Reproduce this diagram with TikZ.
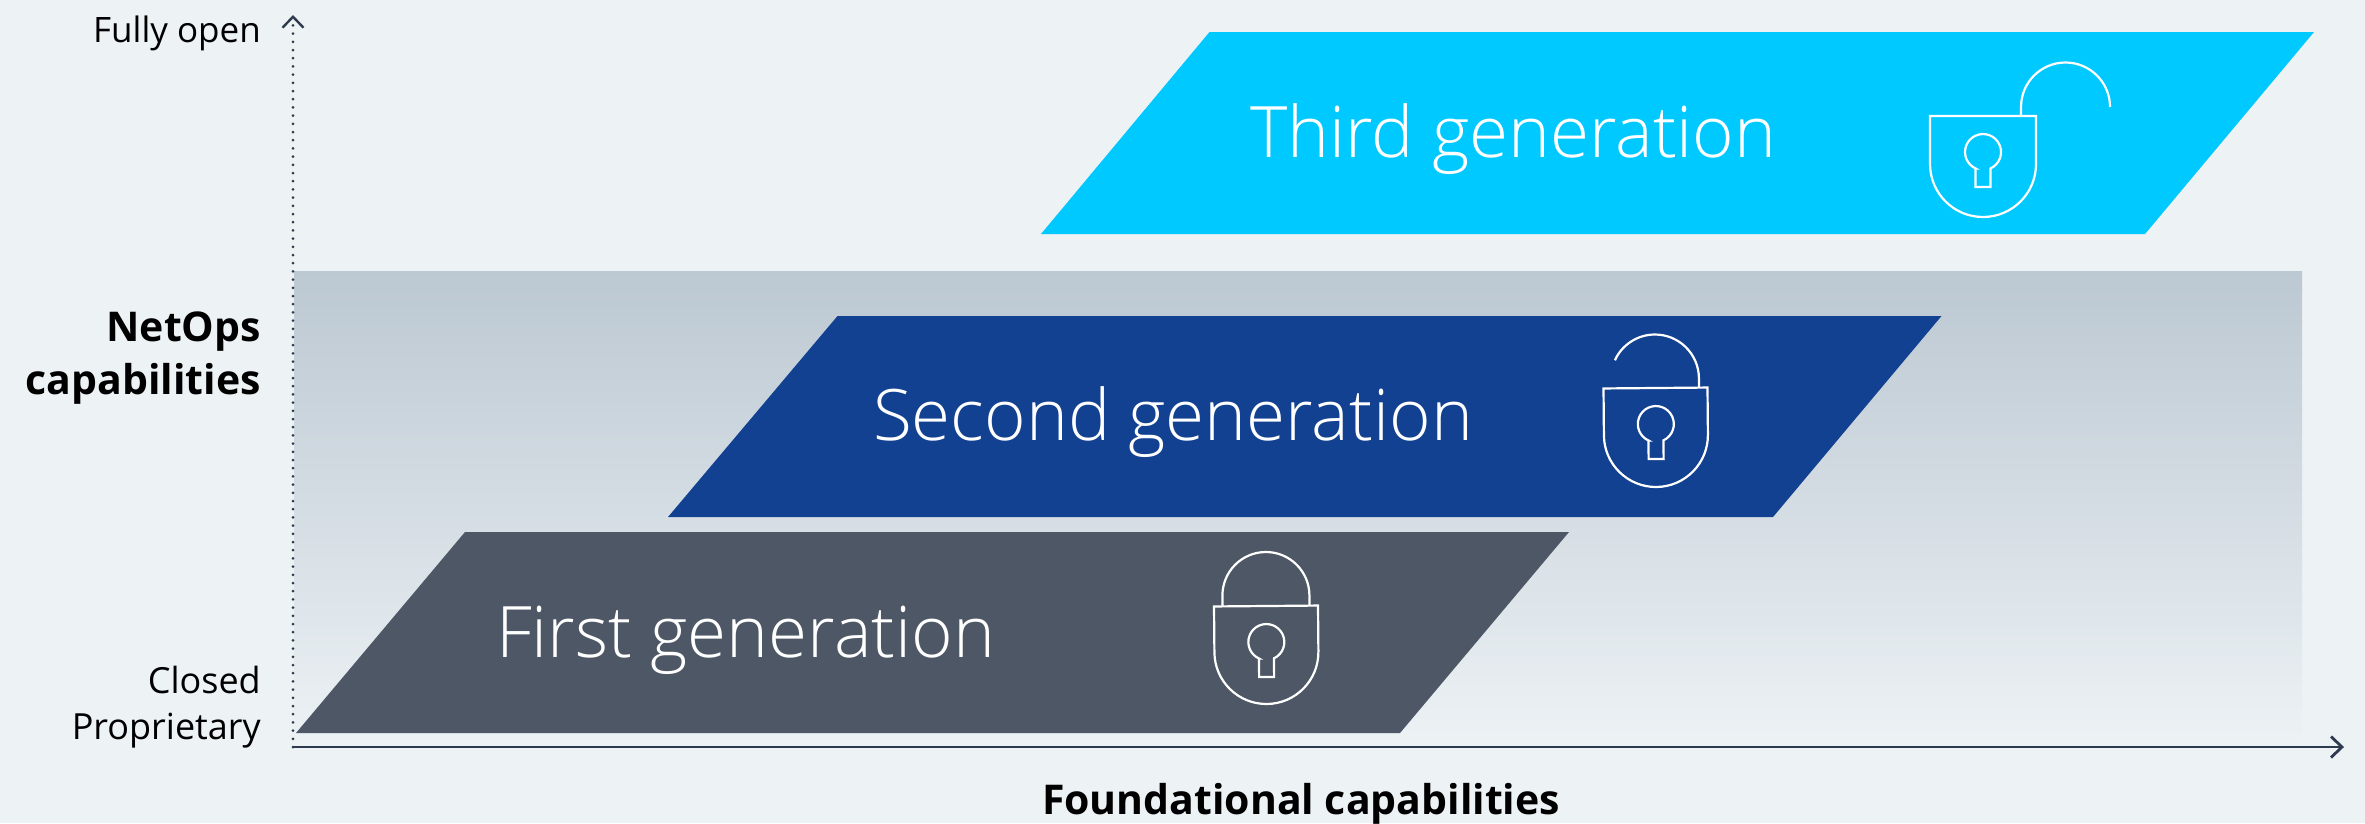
\documentclass[tikz,border=0pt]{standalone}
\usepackage{fontspec}
\setmainfont{Open Sans}
\newfontfamily\lightfont{Open Sans Light}
\usetikzlibrary{arrows.meta}
\definecolor{bgc}{HTML}{EDF2F5}
\definecolor{bandtop}{HTML}{BCC8D2}
\definecolor{axisc}{HTML}{2E3A4E}
\definecolor{thirdc}{HTML}{00C9FF}
\definecolor{secondc}{HTML}{124191}
\definecolor{firstc}{HTML}{4E5766}
\tikzset{
  x=1pt,y=-1pt,
  gentext/.style={text=white,anchor=base west,inner sep=0pt,font=\lightfont\fontsize{71}{78}\selectfont},
  axlabel/.style={text=black,inner sep=0pt,font=\fontsize{36}{46}\selectfont},
  boldlabel/.style={text=black,inner sep=0pt,font=\bfseries\fontsize{41}{53}\selectfont},
  lockline/.style={draw=white,line width=2.2pt,line join=miter},
  axisline/.style={draw=axisc,line width=2.6pt,-{Straight Barb[length=11pt,width=21pt,line width=2.8pt]}},
  axisdot/.style={draw=axisc,line width=3pt,line cap=round,dash pattern=on 0pt off 8.2pt,-{Straight Barb[length=11pt,width=21pt,line width=2.4pt]}},
}
% body and keyhole of a lock, origin at the middle of the top edge; #1 half width, #2 height
\newcommand{\lockshape}[2]{%
  \draw[lockline] (-#1,0) -- (#1,0) -- ({#1},{#2-#1}) arc[start angle=0,delta angle=180,radius=#1] -- cycle;
  \draw[lockline] (-7.5,52.4) -- (-7.5,71) -- (7.5,71) -- (7.5,52.4) arc[start angle=65.4,delta angle=-310.8,radius=18] -- cycle;
}
\begin{document}
\begin{tikzpicture}
\useasboundingbox (0,0) rectangle (2365,823);
\fill[bgc] (0,0) rectangle (2365,823);
\shade[top color=bandtop,bottom color=bgc,draw=none] (294,271) rectangle (2302,747);
% parallelograms
\fill[thirdc]  (1209.5,32) -- (2314,32) -- (2145,234) -- (1041,234) -- cycle;
\fill[secondc] (837.5,316) -- (1941.5,316) -- (1773,517) -- (668,517) -- cycle;
\fill[firstc]  (465,532) -- (1569,532) -- (1400,733) -- (296,733) -- cycle;
% texts
\node[gentext] (third)  at (1250,157) {Third generation};
\node[gentext] (second) at (873,440) {Second generation};
\node[gentext] (first)  at (496,657) {First generation};
% axes
\coordinate (origin) at (293,747);
\coordinate (ytip) at (293,15);
\coordinate (xtip) at (2344,747);
\draw[axisdot] (origin) -- (ytip);
\draw[axisline] (origin) -- (xtip);
% labels
\node[axlabel,anchor=base east,font=\fontsize{35}{44}\selectfont] (fullyopen) at (261,42) {Fully open};
\node[axlabel,anchor=base east,align=right] (closed) at (261,739) {Closed\\Proprietary};
\node[boldlabel,anchor=base east,align=right] (netops) at (261,394) {NetOps\\capabilities};
\node[boldlabel,anchor=base] (found) at (1301,814) {Foundational capabilities};
% first lock, closed
\begin{scope}[shift={(1266,606)},rotate=0.5]
  \lockshape{52}{98}
  \draw[lockline] (-43.5,0) -- (-43.5,-10.5) arc[start angle=180,delta angle=180,radius=43.5] -- (43.5,0);
\end{scope}
% second lock, half open
\begin{scope}[shift={(1655.5,388)},rotate=0.5]
  \lockshape{52}{99}
  \draw[lockline] (43.5,0) -- (43.5,-9.5) arc[start angle=0,delta angle=-155,radius=44];
\end{scope}
% third lock, open
\begin{scope}[shift={(1983,116)}]
  \lockshape{53}{101}
  \draw[lockline] (38,0) -- (38,-9) arc[start angle=180,delta angle=180,radius=44.5];
\end{scope}
\end{tikzpicture}
\end{document}
